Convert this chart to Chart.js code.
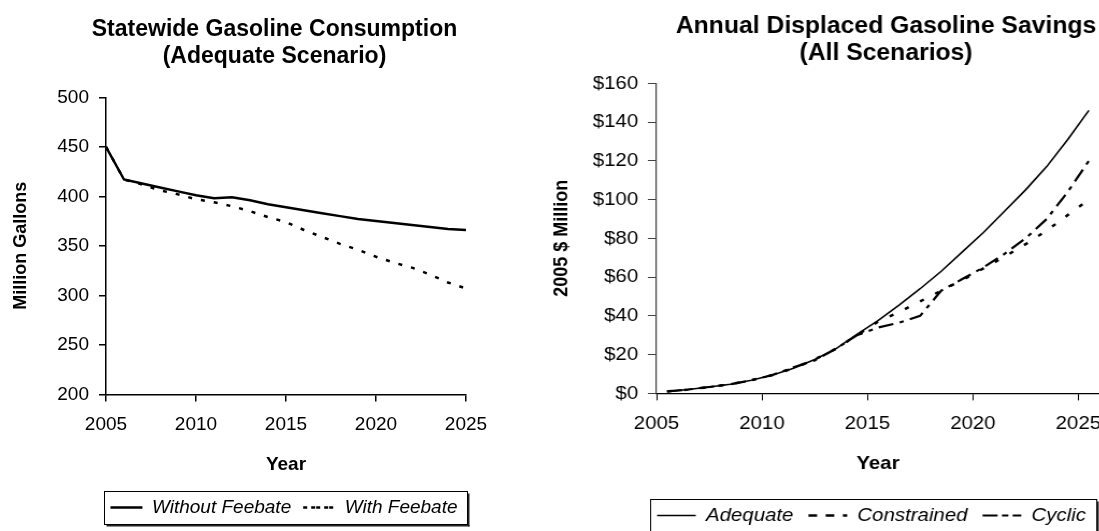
<!DOCTYPE html>
<html>
<head>
<meta charset="utf-8">
<script src="https://cdn.jsdelivr.net/npm/chart.js@4.4.1/dist/chart.umd.min.js"></script>
<style>
  html, body { margin: 0; padding: 0; background: #fff; overflow: hidden; width: 1099px; height: 531px; }
  #leftChart { position: absolute; left: 0; top: 0; }
  /* the right chart in the original image is a little stretched sideways */
  #rightChart { position: absolute; left: 549px; top: 0; transform: scaleX(1.075); transform-origin: 0 0; }
</style>
</head>
<body>
<canvas id="leftChart" width="549" height="531"></canvas>
<canvas id="rightChart" width="627" height="540"></canvas>
<script>
// years on both charts
const years = [2005, 2006, 2007, 2008, 2009, 2010, 2011, 2012, 2013, 2014, 2015,
               2016, 2017, 2018, 2019, 2020, 2021, 2022, 2023, 2024, 2025];

// left chart: million gallons
const withoutFeebate = [450, 417, 413, 409, 405, 401, 398, 399, 396, 392, 389,
                        386, 383, 380, 377, 375, 373, 371, 369, 367, 366];
const withFeebate = [450, 417, 412, 406, 402, 397, 394, 390, 385, 379, 374,
                     366, 359, 352, 346, 339, 333, 328, 321, 313, 307];

// right chart: 2005 $ million
const adequate = [1, 2, 3.3, 4.7, 6.8, 9.5, 13, 17.5, 23, 30.5, 37.5,
                  45.5, 54, 63, 73, 83, 94, 105, 117, 131, 146];
const constrained = [1, 2, 3.3, 4.7, 6.8, 9.5, 13, 17.5, 23, 30, 37,
                     42, 47.5, 53, 58.5, 64.5, 70.5, 77, 84, 92, 100];
const cyclic = [1, 2, 3.3, 4.7, 6.8, 9.5, 13.5, 17, 23, 30, 34,
                36.5, 40, 53, 59, 65, 72, 80, 90, 104, 120];

const FONT = "'Liberation Sans', Arial, sans-serif";
Chart.defaults.color = '#000';
Chart.defaults.font.family = FONT;

function toPoints(xs, ys, shift) {
  return xs.map((x, i) => ({ x: x + shift, y: ys[i] }));
}

// legend is full width (so it stays on one row), then moved under the plot
const legendCenter = {
  id: 'legendCenter',
  afterLayout(chart, args, opts) {
    const lg = chart.legend;
    if (!lg) return;
    const dx = (chart.chartArea.left + chart.chartArea.right) / 2 - (lg.left + lg.right) / 2 + (opts.shift || 0);
    lg.left += dx;
    lg.right += dx;
  }
};

// draws the framed box around the legend, like the Excel one
const legendFrame = {
  id: 'legendFrame',
  afterDraw(chart, args, opts) {
    const boxes = chart.legend && chart.legend.legendHitBoxes;
    if (!boxes || !boxes.length) return;
    let l = Infinity, r = -Infinity, t = Infinity, b = -Infinity;
    boxes.forEach(h => {
      l = Math.min(l, h.left); r = Math.max(r, h.left + h.width);
      t = Math.min(t, h.top); b = Math.max(b, h.top + h.height);
    });
    const ctx = chart.ctx;
    const x = Math.round(l - opts.padX) + 0.5;
    const y = Math.round(t - opts.padY) + 0.5;
    const w = Math.round(r - l + opts.padX + opts.padRight);
    const h = Math.round(b - t + 2 * opts.padY);
    ctx.save();
    ctx.strokeStyle = '#000';
    ctx.lineWidth = 1;
    ctx.strokeRect(x, y, w, h);
    ctx.fillStyle = '#222';
    ctx.fillRect(x + 2, y + h + 0.5, w, 1.5);
    ctx.fillRect(x + w + 0.5, y + 2, 1.5, h);
    ctx.restore();
  }
};

function sideAxis(width) {
  return {
    position: 'right', display: true,
    grid: { display: false }, ticks: { display: false }, border: { display: false },
    afterFit: s => { s.width = width; }
  };
}

function createConsumptionChart() {
  let ctx = document.getElementById('leftChart').getContext('2d');
  return new Chart(ctx, {
    type: 'line',
    data: {
      datasets: [
        {
          label: 'Without Feebate',
          data: toPoints(years, withoutFeebate, 0),
          borderColor: '#000', backgroundColor: 'rgba(0,0,0,0)',
          borderWidth: 2.5, pointRadius: 0, yAxisID: 'y'
        },
        {
          label: 'With Feebate',
          data: toPoints(years, withFeebate, 0),
          borderColor: '#000', backgroundColor: 'rgba(0,0,0,0)',
          borderWidth: 2.5, borderDash: [4, 9], pointRadius: 0, yAxisID: 'y'
        }
      ]
    },
    options: {
      responsive: false, animation: false,
      layout: { padding: { left: 0, right: 0, top: 0, bottom: 4 } },
      plugins: {
        title: {
          display: true,
          text: ['Statewide Gasoline Consumption', '(Adequate Scenario)'],
          font: { size: 23, weight: 'bold', lineHeight: 1.18 },
          padding: { top: 16, bottom: 27 }
        },
        legend: {
          position: 'bottom',
          labels: { boxWidth: 32, boxHeight: 0, padding: 12, font: { size: 19, style: 'italic' } }
        },
        tooltip: { enabled: false },
        legendCenter: { shift: -2 },
        legendFrame: { padX: 6, padRight: 10, padY: 7 }
      },
      scales: {
        x: {
          type: 'linear', min: 2005, max: 2025,
          ticks: { stepSize: 5, padding: 12, font: { size: 19 }, callback: v => String(v) },
          grid: { drawOnChartArea: false, tickLength: 7, color: '#000', lineWidth: 1.5 },
          border: { color: '#000', width: 1.5 },
          title: { display: true, text: 'Year', font: { size: 19, weight: 'bold' }, padding: { top: 5, bottom: 10 } }
        },
        y: {
          min: 200, max: 500,
          ticks: { stepSize: 50, padding: 10, font: { size: 19 } },
          grid: { drawOnChartArea: false, tickLength: 7, color: '#000', lineWidth: 1.5 },
          border: { color: '#000', width: 1.5 },
          title: { display: true, text: 'Million Gallons', font: { size: 18, weight: 'bold' }, padding: { top: 10, bottom: 0 } },
          afterFit: s => { s.width = 106; }
        },
        spare: sideAxis(83)
      }
    },
    plugins: [legendCenter, legendFrame]
  });
}

function createSavingsChart() {
  let ctx = document.getElementById('rightChart').getContext('2d');
  return new Chart(ctx, {
    type: 'line',
    data: {
      datasets: [
        {
          label: 'Adequate',
          data: toPoints(years, adequate, 0.5),
          borderColor: '#000', backgroundColor: 'rgba(0,0,0,0)',
          borderWidth: 1.6, pointRadius: 0, yAxisID: 'y'
        },
        {
          label: 'Constrained',
          data: toPoints(years, constrained, 0.5),
          borderColor: '#000', backgroundColor: 'rgba(0,0,0,0)',
          borderWidth: 2.5, borderDash: [4, 12], pointRadius: 0, yAxisID: 'y'
        },
        {
          label: 'Cyclic',
          data: toPoints(years, cyclic, 0.5),
          borderColor: '#000', backgroundColor: 'rgba(0,0,0,0)',
          borderWidth: 2.2, borderDash: [14, 6, 4, 6], pointRadius: 0, yAxisID: 'y'
        }
      ]
    },
    options: {
      responsive: false, animation: false,
      layout: { padding: { left: 0, right: 0, top: 0, bottom: 5 } },
      plugins: {
        title: {
          display: true,
          text: ['Annual Displaced Gasoline Savings', '(All Scenarios)'],
          font: { size: 23, weight: 'bold', lineHeight: 1.18 },
          padding: { top: 13, bottom: 16 }
        },
        legend: {
          position: 'bottom',
          labels: { boxWidth: 36, boxHeight: 0, padding: 14, font: { size: 19, style: 'italic' } }
        },
        tooltip: { enabled: false },
        legendCenter: { shift: -6 },
        legendFrame: { padX: 7, padRight: 9, padY: 7 }
      },
      scales: {
        x: {
          type: 'linear', min: 2005, max: 2026,
          ticks: { stepSize: 5, includeBounds: false, padding: 12, font: { size: 19 }, callback: v => String(v) },
          grid: { drawOnChartArea: false, tickLength: 7, color: '#000' },
          border: { color: '#000', width: 1.2 },
          title: { display: true, text: 'Year', font: { size: 19, weight: 'bold' }, padding: { top: 5, bottom: 17 } }
        },
        y: {
          min: 0, max: 160,
          ticks: { stepSize: 20, padding: 9, font: { size: 19 }, callback: v => '$' + v },
          grid: { drawOnChartArea: false, tickLength: 8, color: '#444' },
          border: { color: '#444', width: 1.2 },
          title: { display: true, text: '2005 $ Million', font: { size: 18, weight: 'bold' }, padding: { top: 1, bottom: 0 } },
          afterFit: s => { s.width = 100; }
        },
        spare: sideAxis(115)
      }
    },
    plugins: [legendCenter, legendFrame]
  });
}

createConsumptionChart();
createSavingsChart();
</script>
</body>
</html>
